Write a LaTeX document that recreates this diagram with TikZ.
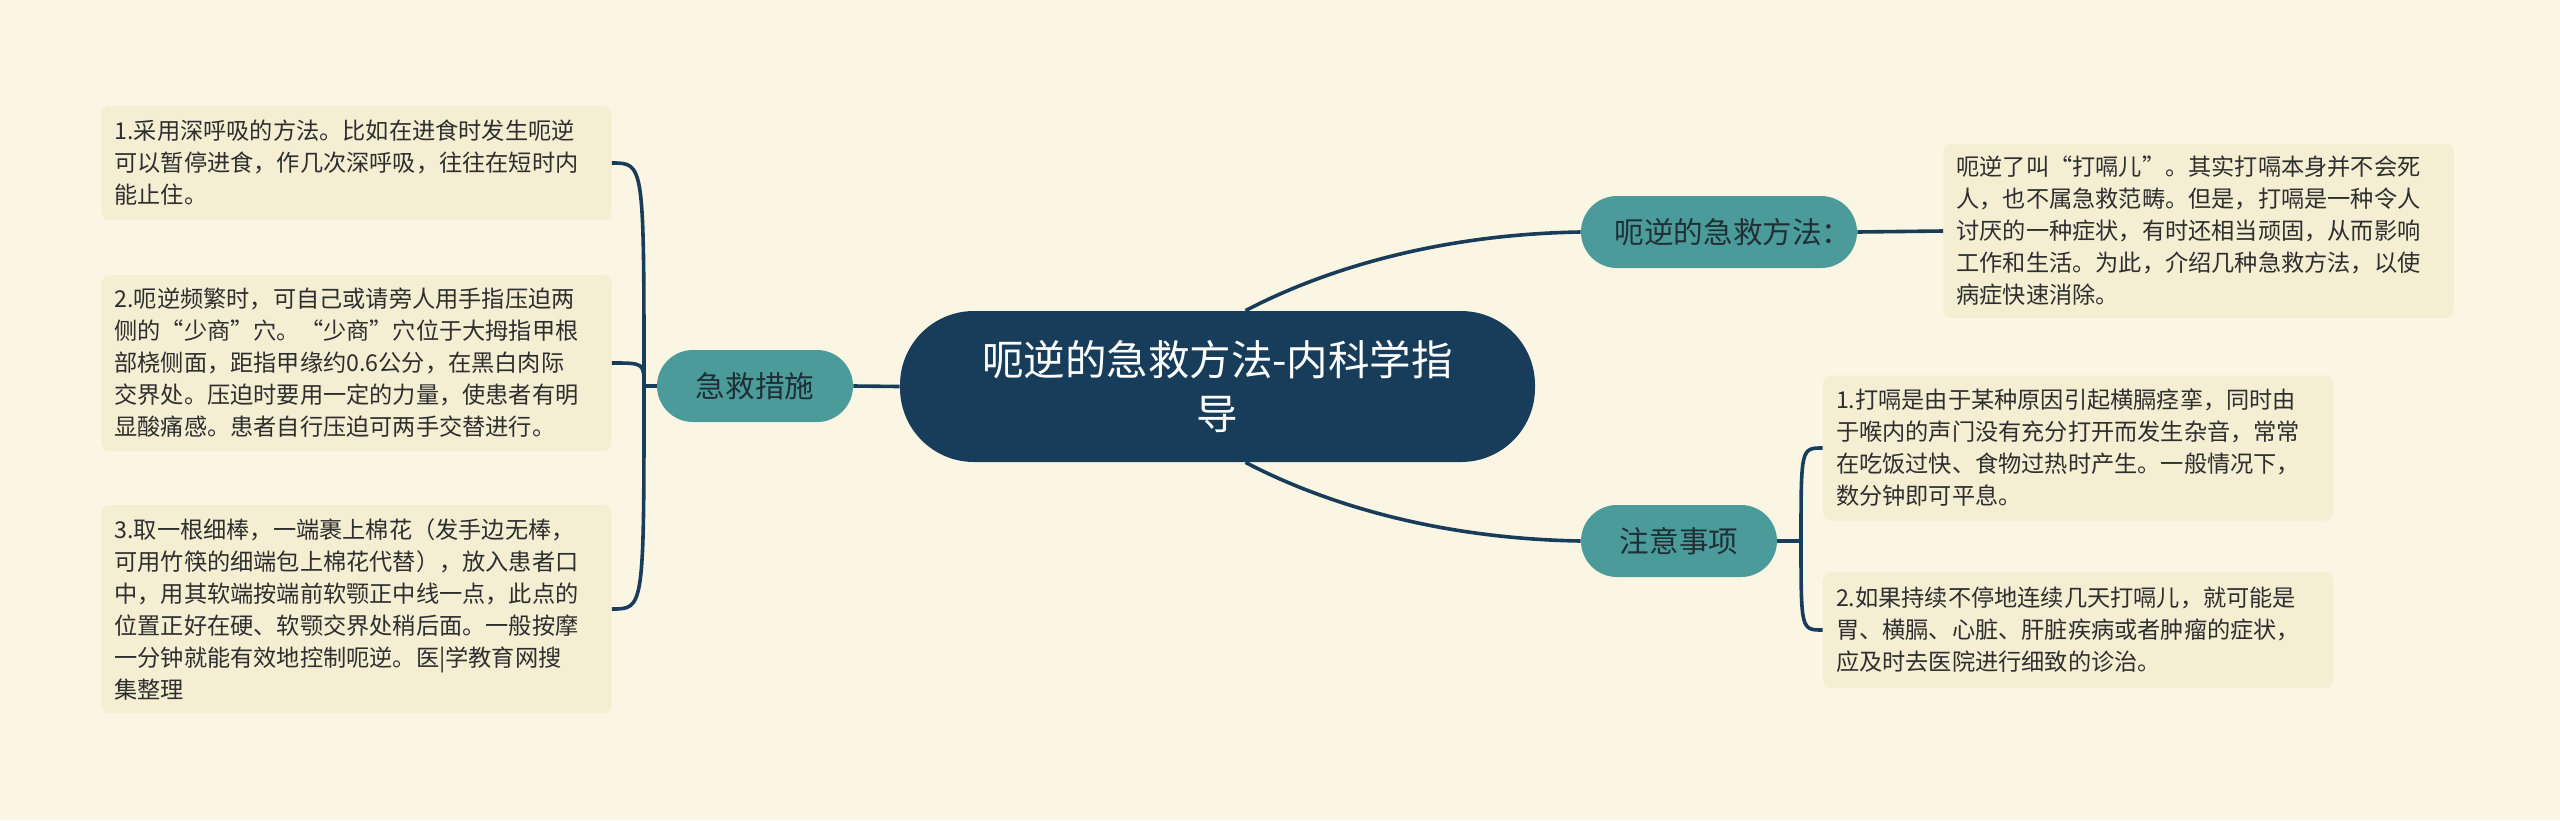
\documentclass[tikz,border=0pt]{standalone}
\usepackage{fontspec}
\setmainfont{Noto Sans CJK SC}
\usepackage{tikz}
\usetikzlibrary{positioning}
\definecolor{paper}{HTML}{FBF6E3}
\definecolor{notefill}{HTML}{F4EED3}
\definecolor{navy}{HTML}{173D5B}
\definecolor{topicfill}{HTML}{4C9B9B}
\definecolor{topicink}{HTML}{1E3036}
\definecolor{ink}{HTML}{2E2E2E}
\tikzstyle{branch} = [draw=navy, line width=1.8pt]
\tikzset{
	root/.style={rectangle, fill=navy, rounded corners=37pt, minimum width=317.5pt,
		minimum height=75.5pt, align=center, text=white,
		font=\fontsize{20.75}{27}\selectfont},
	topic/.style={rectangle, fill=topicfill, rounded corners=18pt, minimum width=98pt,
		minimum height=36pt, text=topicink, font=\fontsize{14.8}{18}\selectfont},
	note/.style={rectangle, fill=notefill, rounded corners=4pt, text width=242pt,
		inner xsep=6.5pt, inner ysep=0pt, align=left, text=ink,
		font=\fontsize{11.6}{16}\selectfont},
}

\begin{document}
\begin{tikzpicture}[x=0.5pt, y=-0.5pt]

\fill [paper] (0,0) rectangle (2560,820);
\useasboundingbox (0,0) rectangle (2560,820);

\node [root] at (1217.5,386.5) (title) {呃逆的急救方法-内科学指\\导};

\node [topic] at (755,386) (cure) {急救措施};
\node [topic, minimum width=138pt] at (1719,232) (intro) {呃逆的急救方法：\hspace*{-14pt}};
\node [topic] at (1679,541) (care) {注意事项};

	%left notes
\node [note, minimum height=57pt] at (356.5,163) (m1)
	{1.采用深呼吸的方法。比如在进食时发生呃逆\\可以暂停进食，作几次深呼吸，往往在短时内\\能止住。};
\node [note, minimum height=88pt] at (356.5,363) (m2)
	{2.呃逆频繁时，可自己或请旁人用手指压迫两\\侧的“少商”穴。“少商”穴位于大拇指甲根\\部桡侧面，距指甲缘约0.6公分，在黑白肉际\\交界处。压迫时要用一定的力量，使患者有明\\显酸痛感。患者自行压迫可两手交替进行。};
\node [note, minimum height=104pt] at (356.5,609) (m3)
	{3.取一根细棒，一端裹上棉花（发手边无棒，\\可用竹筷的细端包上棉花代替），放入患者口\\中，用其软端按端前软颚正中线一点，此点的\\位置正好在硬、软颚交界处稍后面。一般按摩\\一分钟就能有效地控制呃逆。医|学教育网搜\\集整理};

	%right notes
\node [note, minimum height=87pt] at (2198.5,231) (introtxt)
	{呃逆了叫“打嗝儿”。其实打嗝本身并不会死\\人，也不属急救范畴。但是，打嗝是一种令人\\讨厌的一种症状，有时还相当顽固，从而影响\\工作和生活。为此，介绍几种急救方法，以使\\病症快速消除。};
\node [note, minimum height=72.5pt] at (2078,448) (c1)
	{1.打嗝是由于某种原因引起横膈痉挛，同时由\\于喉内的声门没有充分打开而发生杂音，常常\\在吃饭过快、食物过热时产生。一般情况下，\\数分钟即可平息。};
\node [note, minimum height=58pt] at (2078,630) (c2)
	{2.如果持续不停地连续几天打嗝儿，就可能是\\胃、横膈、心脏、肝脏疾病或者肿瘤的症状，\\应及时去医院进行细致的诊治。};

\coordinate (lhub) at (644,386);
\coordinate (rhub) at (1801,541);

\path [branch] (title.west) -- (cure.east);
\path [branch] ([xshift=14pt]title.north) .. controls (1285,290) and (1400,235) .. (intro.west);
\path [branch] ([xshift=14pt]title.south) .. controls (1285,483) and (1400,538) .. (care.west);
\path [branch] (intro.east) -- (introtxt.west);

\path [branch] (cure.west) -- (lhub);
\foreach \n in {m1, m2, m3}
	\path [branch] (lhub) .. controls (lhub |- \n.east) .. (\n.east);

\path [branch] (care.east) -- (rhub);
\foreach \n in {c1, c2}
	\path [branch] (rhub) .. controls (rhub |- \n.west) .. (\n.west);

\end{tikzpicture}
\end{document}
